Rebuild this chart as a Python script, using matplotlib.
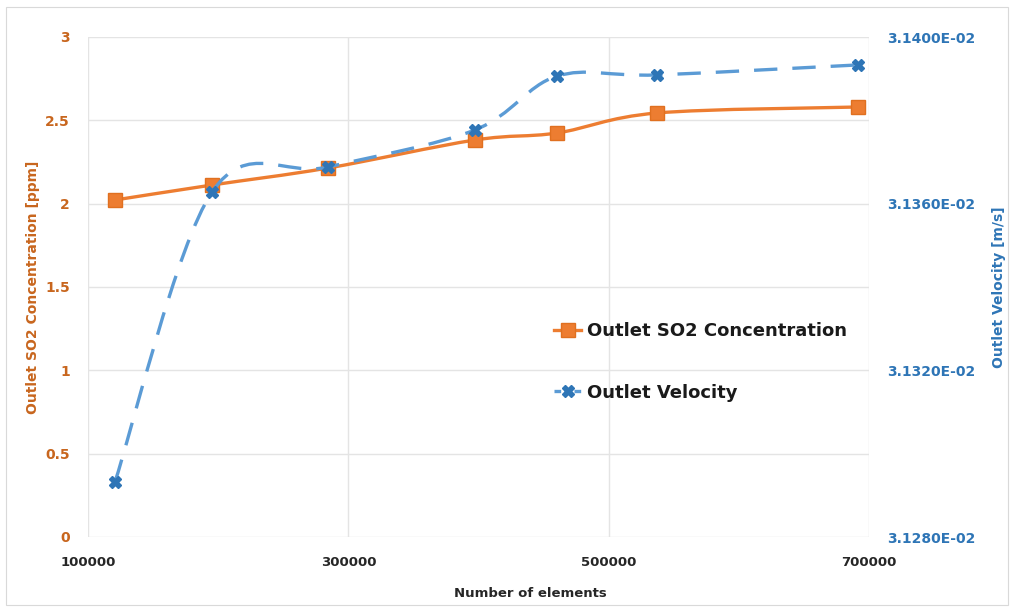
import matplotlib
matplotlib.use("Agg")
import matplotlib.pyplot as plt
from matplotlib.path import Path
from matplotlib.patches import PathPatch, Rectangle
from matplotlib.lines import Line2D
import numpy as np

plt.rcParams['font.family'] = ['DejaVu Sans']

# mesh sizes and results
n_elements = [120700, 195300, 284400, 397300, 460300, 537100, 691500]
so2_ppm = [2.022, 2.112, 2.214, 2.382, 2.424, 2.544, 2.580]
velocity = [3.12932e-2, 3.13628e-2, 3.13688e-2, 3.13777e-2, 3.13906e-2, 3.13909e-2, 3.13933e-2]

left_ticks = [0, 0.5, 1, 1.5, 2, 2.5, 3]
left_labels = ['0', '0.5', '1', '1.5', '2', '2.5', '3']
right_ticks = [3.128e-2, 3.132e-2, 3.136e-2, 3.140e-2]
x_ticks = [100000, 300000, 500000, 700000]

orange = '#ED7D31'
orange_txt = '#C8661E'
blue = '#5B9BD5'
blue_dark = '#2E75B6'
grid_col = '#E4E4E4'


def smooth_path(xs, ys, t=1.0 / 6):
    # excel-style smoothed line: cubic bezier through every point
    pts = np.column_stack([xs, ys]).astype(float)
    n = len(pts)
    verts = [pts[0]]
    codes = [Path.MOVETO]
    for i in range(n - 1):
        p0 = pts[i - 1] if i > 0 else pts[i]
        p1 = pts[i]
        p2 = pts[i + 1]
        p3 = pts[i + 2] if i + 2 < n else pts[i + 1]
        c1 = p1 + (p2 - p0) * t
        c2 = p2 - (p3 - p1) * t
        verts += [c1, c2, p2]
        codes += [Path.CURVE4] * 3
    return Path(np.array(verts), codes)


fig = plt.figure(figsize=(10.14, 6.12), dpi=100)
fig.patch.set_facecolor('white')
fig.patches.append(Rectangle((0.006, 0.012), 0.988, 0.976, transform=fig.transFigure,
                             fill=False, edgecolor='#D9D9D9', linewidth=0.8))

ax = fig.add_axes([88 / 1014, 75 / 612, 781 / 1014, 500 / 612])
ax2 = ax.twinx()

ax.set_xlim(100000, 700000)
ax.set_ylim(0, 3)
ax2.set_ylim(3.128e-2, 3.140e-2)

ax.set_xticks(x_ticks)
ax.set_xticklabels([str(v) for v in x_ticks], fontsize=9.5, fontweight='bold', color='#262626')
ax.set_yticks(left_ticks)
ax.set_yticklabels(left_labels, fontsize=10, fontweight='bold', color=orange_txt)
ax2.set_yticks(right_ticks)
ax2.set_yticklabels(['%.4E' % v for v in right_ticks], fontsize=10, fontweight='bold', color=blue_dark)

ax.tick_params(axis='y', length=0, pad=13)
ax.tick_params(axis='x', length=0, pad=14)
ax2.tick_params(axis='y', length=0, pad=13)

ax.grid(True, color=grid_col, linewidth=1.0)
ax.set_axisbelow(True)
for a in (ax, ax2):
    for s in a.spines.values():
        s.set_visible(False)

# SO2 concentration on the left axis
ax.add_patch(PathPatch(smooth_path(n_elements, so2_ppm), fill=False, edgecolor=orange,
                       linewidth=2.4, capstyle='round', zorder=3))
ax.plot(n_elements, so2_ppm, linestyle='none', marker='s', markersize=10,
        markerfacecolor=orange, markeredgecolor='#E07020', zorder=4)

# outlet velocity on the right axis
ax2.add_patch(PathPatch(smooth_path(n_elements, velocity), fill=False, edgecolor=blue,
                        linewidth=2.4, linestyle=(0, (7, 4.5)), zorder=3))
ax2.plot(n_elements, velocity, linestyle='none', marker='X', markersize=8.5,
         markerfacecolor=blue_dark, markeredgecolor=blue_dark, zorder=4)

ax.set_xlabel('Number of elements', fontsize=9.5, fontweight='bold', color='#262626')
ax.xaxis.set_label_coords(0.566, -0.1)
ax.set_ylabel('Outlet SO2 Concentration [ppm]', fontsize=10, fontweight='bold', color=orange_txt,
              labelpad=4)
ax2.set_ylabel('Outlet Velocity [m/s]', fontsize=10, fontweight='bold', color=blue_dark, labelpad=12)

handles = [
    Line2D([], [], color=orange, linewidth=2.4, marker='s', markersize=10, markerfacecolor=orange,
           markeredgecolor='#E07020'),
    Line2D([], [], color=blue, linewidth=2.4, linestyle=(0, (2, 1)), marker='X', markersize=8.5,
           markerfacecolor=blue_dark, markeredgecolor=blue_dark),
]
leg = ax.legend(handles, ['Outlet SO2 Concentration', 'Outlet Velocity'], loc='center left',
                bbox_to_anchor=(0.576, 0.35), frameon=False,
                prop={'weight': 'bold', 'size': 13}, handlelength=1.5, handletextpad=0.3,
                labelspacing=2.4)
for t in leg.get_texts():
    t.set_color('#1A1A1A')

fig.savefig('out.png', dpi=100)
